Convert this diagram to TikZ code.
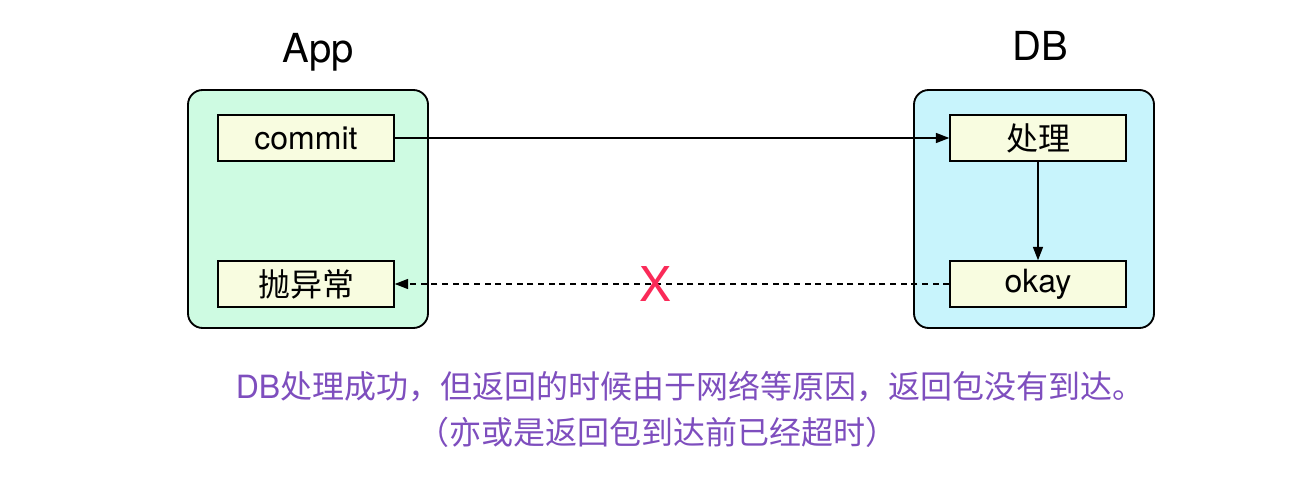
\documentclass[tikz,border=0pt]{standalone}
\usepackage{fontspec}
\setmainfont{TeX Gyre Heros}
\newfontfamily\cjk{Noto Sans CJK SC}
\usetikzlibrary{arrows.meta}
\definecolor{appgreen}{RGB}{206,251,226}
\definecolor{dbcyan}{RGB}{200,244,252}
\definecolor{stepyellow}{RGB}{248,252,224}
\definecolor{crossred}{RGB}{250,42,88}
\definecolor{notepurple}{RGB}{126,78,190}

\begin{document}
\begin{tikzpicture}[x=0.75pt,y=0.75pt,yscale=-1,xscale=1,
  side/.style={draw=black, line width=1.4pt, rounded corners=11pt, minimum width=180pt, minimum height=178.5pt},
  stepbox/.style={draw=black, line width=1.1pt, fill=stepyellow, minimum width=132pt, minimum height=34.5pt, inner sep=0pt, font=\fontsize{24}{28}\selectfont},
  title/.style={font=\fontsize{30}{36}\selectfont},
  note/.style={text=notepurple, inner sep=0pt, font=\fontsize{24}{28}\selectfont},
  flow/.style={line width=1pt, -{Triangle[length=10pt,width=7.5pt]}}]
\useasboundingbox (0,0) rectangle (1310,484);

% Boxes
\node[side, fill=appgreen] (app) at (308,209) {};
\node[side, fill=dbcyan] (db) at (1034,209) {};

% Titles
\node[title] (applabel) at (318,52) {App};
\node[title] (dblabel) at (1040,46) {DB};

% Steps
\node[stepbox] (commit) at (306,138) {commit};
\node[stepbox] (throw) at (306,284) {\cjk 抛异常};
\node[stepbox] (handle) at (1038,138) {\cjk 处理};
\node[stepbox] (okay) at (1038,284) {okay};

% Arrows
\draw[flow] (commit) -- (handle);
\draw[flow] (handle) -- (okay);
\draw[flow, dash pattern=on 4.5pt off 3.5pt] (okay) -- (throw);

% Lost reply
\node[text=crossred, font=\fontsize{36}{40}\selectfont] (lost) at (655,284) {X};

% Notes
\node[note] (note1) at (690,387) {DB\cjk 处理成功，但返回的时候由于网络等原因，返回包没有到达。};
\node[note] (note2) at (657,432) {\cjk （亦或是返回包到达前已经超时）};

\end{tikzpicture}
\end{document}
